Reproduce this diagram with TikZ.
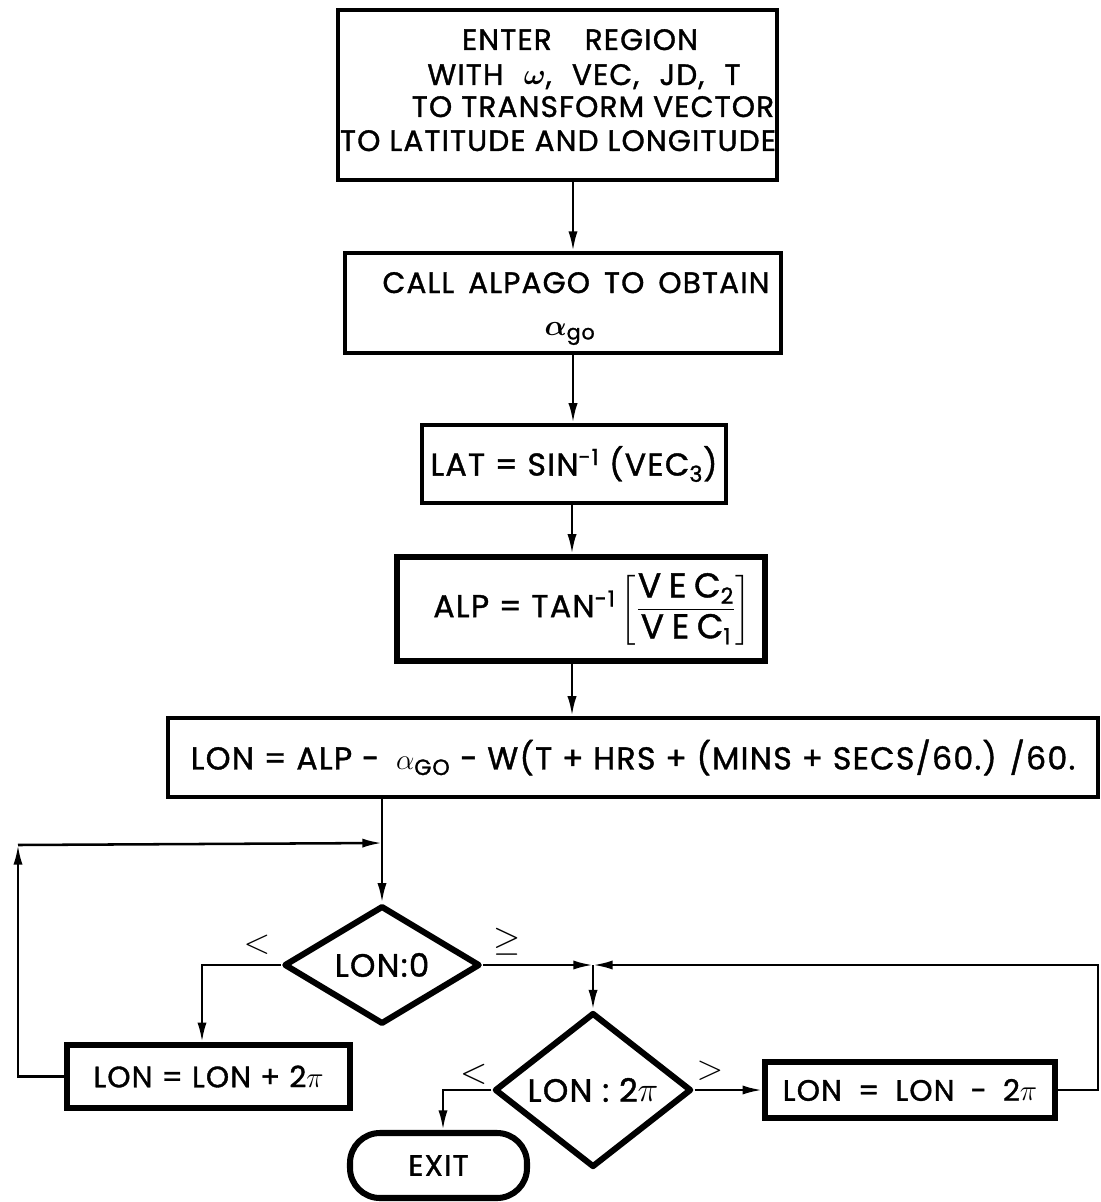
\documentclass[tikz,border=0pt]{standalone}
\usepackage{amsmath,bm}
\usepackage{fontspec}
\setmainfont{Poppins}[LetterSpace=4,FakeBold=1.2]
\usetikzlibrary{shapes.geometric,arrows.meta}
\def\PX{0.025cm}
\begin{document}
\begin{tikzpicture}[x=0.025cm,y=-0.025cm,
  font=\fontsize{21pt}{24pt}\selectfont,
  pbox/.style={draw,rectangle,inner sep=0pt,align=center},
  txt/.style={inner sep=0pt,anchor=base},
  dia/.style={draw,diamond,inner sep=0pt,line width=4.3pt,line join=round},
  term/.style={draw,rectangle,rounded corners=30*\PX,inner sep=0pt,line width=4.3pt},
  arr/.style={line width=1.8pt,-{Latex[length=14pt,width=6.5pt]}},
  lbl/.style={inner sep=0pt,font=\fontsize{28pt}{28pt}\selectfont}]
\fill[white] (0,0) rectangle (1100,1202);
\useasboundingbox (0,0) rectangle (1100,1202);

% boxes
\node[pbox,line width=2.2pt,minimum width=439*\PX,minimum height=170*\PX] (enter) at (557.5,95) {};
\node[txt] (e1) at (580,50) {ENTER\hspace{17pt} REGION};
\node[txt] (e2) at (584,85) {WITH\hspace{8pt} $\bm{\omega}$,\hspace{8pt} VEC,\hspace{8pt} JD,\hspace{8pt} T};
\node[txt] (e3) at (593,117) {TO TRANSFORM VECTOR};
\node[txt] (e4) at (558,151) {TO LATITUDE AND LONGITUDE};

\node[pbox,line width=2.8pt,minimum width=436*\PX,minimum height=100*\PX] (alpago) at (563,303) {};
\node[txt] (a1) at (576,293) {CALL\hspace{3.5pt} ALPAGO\hspace{3.5pt} TO\hspace{3.5pt} OBTAIN};
\node[txt] (a2) at (570,335) {$\bm{\alpha}_{\text{go}}$};

\node[pbox,line width=3pt,minimum width=304*\PX,minimum height=78*\PX,font=\fontsize{22.5pt}{26pt}\selectfont] (lat) at (574,464)
  {LAT = SIN$^{\text{-1}}$ (VEC$_{\text{3}}$)};
\node[pbox,line width=4.5pt,minimum width=368*\PX,minimum height=104*\PX,font=\fontsize{22.5pt}{24pt}\selectfont] (alp) at (581,609)
  {\hspace*{16pt}ALP = TAN$^{\text{-1}}$\,$\left[\dfrac{\text{\fontsize{24.5pt}{26pt}\selectfont\addfontfeatures{LetterSpace=22}VEC}_{\text{2}}}{\text{\fontsize{24.5pt}{26pt}\selectfont\addfontfeatures{LetterSpace=22}VEC}_{\text{1}}}\right]$};
\node[pbox,line width=3pt,minimum width=930*\PX,minimum height=79*\PX,font=\fontsize{22.5pt}{24pt}\selectfont] (lon) at (633,757.5)
  {LON = ALP -\hspace{5pt}\ $\alpha_{\text{GO}}$ - W(T + HRS + (MINS + SECS/60.) /60.};

\node[dia,minimum width=196*\PX,minimum height=114*\PX,font=\fontsize{23pt}{24pt}\selectfont] (d1) at (382,965) {LON:0};
\node[pbox,line width=4pt,minimum width=283*\PX,minimum height=63*\PX] (lonp) at (208.5,1076.5)
  {LON = LON + 2$\pi$};
\node[dia,minimum width=197*\PX,minimum height=116*\PX,font=\fontsize{23pt}{24pt}\selectfont] (d2) at (593,1090) {LON : 2$\pi$};
\node[pbox,line width=4pt,minimum width=290*\PX,minimum height=56*\PX] (lonm) at (910,1090)
  {LON\hspace{5pt} =\hspace{5pt} LON\hspace{5pt} -\hspace{5pt} 2$\pi$};
\node[term,minimum width=177*\PX,minimum height=65*\PX] (exit) at (438.5,1165.5) {EXIT};

% labels
\node[lbl] (llt) at (257,945) {$<$};
\node[lbl] (lge) at (507,942) {$\geq$};
\node[lbl] (lle) at (474,1078) {$\leq$};
\node[lbl] (lgt) at (710,1071) {$>$};

% helper coordinates
\coordinate (c1) at (573,0);
\coordinate (c2) at (572,0);
\coordinate (j1) at (382,843);
\coordinate (cL) at (18,845);
\coordinate (cB) at (202,0);
\coordinate (cX) at (443,0);
\coordinate (j2) at (593,965);
\coordinate (cR) at (1098,965);

% connectors
\draw[arr] (enter.south -| c1) -- (alpago.north -| c1);
\draw[arr] (alpago.south -| c1) -- (lat.north -| c1);
\draw[arr] (lat.south -| c2) -- (alp.north -| c2);
\draw[arr] (alp.south -| c2) -- (lon.north -| c2);
\draw[arr] (lon.south -| j1) -- (d1.north);
\draw[arr] (d1.west) -| (lonp.north -| cB);
\draw[arr] (lonp.west) -- (lonp.west -| cL) -- (cL);
\draw[arr] (cL) -- (j1);
\draw[arr] (d1.east) -- (j2);
\draw[arr] (lonm.east) -- (lonm.east -| cR) -- (cR) -- (j2);
\draw[arr] (j2) -- (d2.north);
\draw[arr] (d2.west) -| (exit.north -| cX);
\draw[arr] (d2.east) -- (lonm.west);
\end{tikzpicture}
\end{document}
